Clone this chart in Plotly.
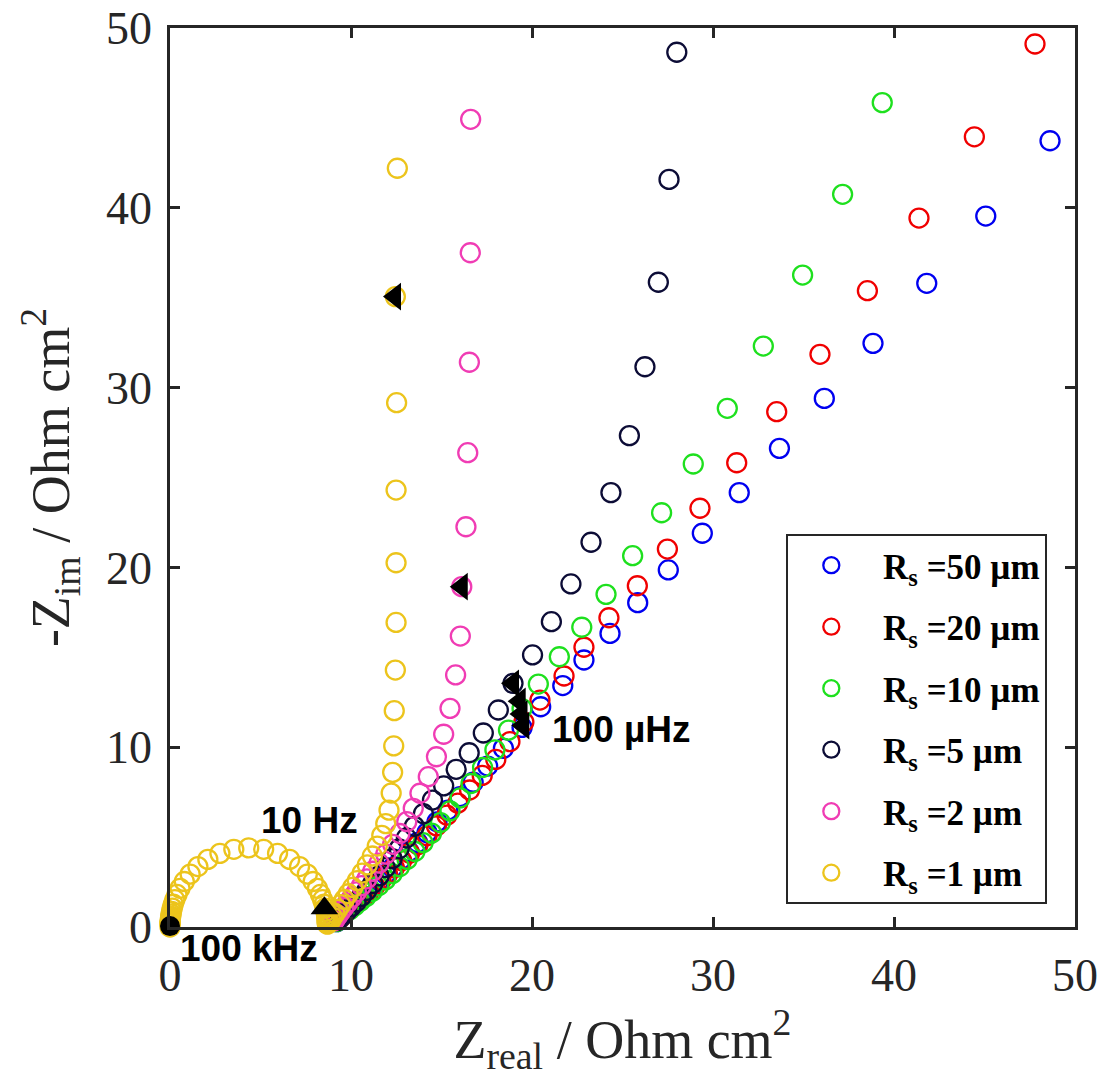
import plotly.graph_objects as go

# ---------------- data ----------------
series_names = ["R<sub>s</sub> =50 µm", "R<sub>s</sub> =20 µm", "R<sub>s</sub> =10 µm",
                "R<sub>s</sub> =5 µm", "R<sub>s</sub> =2 µm", "R<sub>s</sub> =1 µm"]

blue_x = [48.62, 45.07, 41.81, 38.84, 36.15, 33.67, 31.45, 29.41, 27.53, 25.84, 24.31, 22.87, 21.70,
          20.48, 19.45, 18.42, 17.55, 16.75, 16.02, 15.35, 14.75, 14.20, 13.68, 13.20, 12.75, 12.32,
          11.92, 11.55, 11.20, 10.88, 10.58, 10.30, 10.05, 9.82, 9.62, 9.46, 9.33, 9.22]
blue_y = [43.73, 39.54, 35.80, 32.46, 29.40, 26.62, 24.16, 21.90, 19.86, 18.04, 16.33, 14.85, 13.43,
          12.25, 11.10, 9.94, 8.95, 8.05, 7.25, 6.50, 5.85, 5.25, 4.70, 4.20, 3.75, 3.32,
          2.93, 2.57, 2.24, 1.93, 1.64, 1.38, 1.14, 0.92, 0.73, 0.56, 0.42, 0.30]

red_x = [47.79, 44.44, 41.38, 38.53, 35.91, 33.52, 31.31, 29.28, 27.48, 25.82, 24.25, 22.87, 21.77,
         20.44, 19.55, 18.78, 18.00, 17.25, 16.55, 15.90, 15.30, 14.72, 14.20, 13.70, 13.24, 12.80,
         12.40, 12.02, 11.66, 11.32, 11.00, 10.70, 10.42, 10.15, 9.90, 9.68, 9.50, 9.35, 9.22]
red_y = [49.11, 43.95, 39.43, 35.39, 31.85, 28.66, 25.82, 23.29, 21.02, 18.98, 17.20, 15.56, 13.96,
         12.62, 11.40, 10.31, 9.32, 8.43, 7.62, 6.89, 6.22, 5.62, 5.07, 4.57, 4.11, 3.69,
         3.30, 2.94, 2.60, 2.28, 1.98, 1.70, 1.44, 1.20, 0.98, 0.78, 0.60, 0.45, 0.32]

green_x = [39.35, 37.16, 34.95, 32.78, 30.79, 28.91, 27.16, 25.56, 24.09, 22.75, 21.51, 20.35, 19.45,
           18.70, 17.95, 17.27, 16.63, 16.03, 15.47, 14.94, 14.45, 13.98, 13.53, 13.10, 12.68, 12.28,
           11.90, 11.53, 11.17, 10.83, 10.50, 10.20, 9.92, 9.66, 9.45, 9.30, 9.20]
green_y = [45.85, 40.75, 36.26, 32.31, 28.85, 25.75, 23.04, 20.65, 18.50, 16.67, 15.03, 13.51, 12.15,
           10.95, 9.85, 8.87, 7.98, 7.18, 6.46, 5.81, 5.22, 4.69, 4.20, 3.76, 3.35, 2.97,
           2.62, 2.29, 1.98, 1.69, 1.42, 1.17, 0.95, 0.75, 0.57, 0.42, 0.30]

black_x = [28.00, 27.57, 26.98, 26.24, 25.38, 24.36, 23.26, 22.15, 21.07, 20.03, 18.95, 18.14, 17.31,
           16.53, 15.81, 15.12, 14.50, 14.00, 13.50, 13.06, 12.66, 12.27, 11.90, 11.55, 11.20, 10.88,
           10.57, 10.28, 10.00, 9.76, 9.55, 9.38, 9.23]
black_y = [48.65, 41.58, 35.86, 31.16, 27.33, 24.16, 21.40, 19.08, 16.98, 15.13, 13.55, 12.07, 10.79,
           9.69, 8.77, 7.85, 7.06, 6.30, 5.60, 4.95, 4.35, 3.80, 3.30, 2.84, 2.42, 2.04,
           1.70, 1.39, 1.12, 0.88, 0.67, 0.50, 0.35]

pink_x = [16.61, 16.59, 16.54, 16.45, 16.35, 16.12, 16.04, 15.78, 15.47, 15.12, 14.72, 14.27, 13.81,
          13.44, 13.08, 12.70, 12.30, 11.92, 11.55, 11.20, 10.88, 10.58, 10.30, 10.04, 9.80, 9.60,
          9.42, 9.28, 9.16, 9.06]
pink_y = [44.92, 37.50, 31.41, 26.38, 22.26, 18.93, 16.18, 14.02, 12.16, 10.72, 9.47, 8.36, 7.44,
          6.60, 5.86, 5.20, 4.60, 4.05, 3.55, 3.10, 2.68, 2.30, 1.95, 1.63, 1.34, 1.08,
          0.85, 0.65, 0.48, 0.34]

yellow_x = [12.56, 12.45, 12.52, 12.49, 12.49, 12.49, 12.45, 12.39, 12.36, 12.30, 12.22, 12.10, 11.92,
            11.70, 11.45, 11.18, 10.90, 10.62, 10.35, 10.09, 9.85, 9.63, 9.43, 9.26, 9.11, 8.98, 8.88, 8.80,
            8.697, 8.696, 8.694, 8.691, 8.687, 8.681, 8.673, 8.660, 8.641, 8.614, 8.574, 8.517, 8.433,
            8.314, 8.145, 7.909, 7.587, 7.158, 6.609, 5.942, 5.174, 4.350, 3.526, 2.758, 2.091, 1.542,
            1.113, 0.791, 0.555, 0.386, 0.267, 0.183, 0.126, 0.086, 0.059, 0.040, 0.027, 0.019, 0.013,
            0.009, 0.006, 0.004, 0.003, 0.0]
yellow_y = [42.20, 35.06, 29.16, 24.30, 20.26, 16.94, 14.29, 12.03, 10.07, 8.60, 7.45, 6.50, 5.75,
            5.10, 4.50, 3.95, 3.45, 3.00, 2.58, 2.20, 1.85, 1.53, 1.24, 0.98, 0.75, 0.55, 0.38, 0.26,
            0.157, 0.190, 0.230, 0.278, 0.337, 0.408, 0.494, 0.597, 0.722, 0.871, 1.051, 1.265, 1.517,
            1.812, 2.150, 2.530, 2.940, 3.361, 3.760, 4.095, 4.320, 4.400, 4.320, 4.095, 3.760, 3.361,
            2.940, 2.530, 2.150, 1.812, 1.517, 1.265, 1.051, 0.871, 0.722, 0.597, 0.494, 0.408, 0.337,
            0.278, 0.230, 0.190, 0.157, 0.0]

series_x = [blue_x, red_x, green_x, black_x, pink_x, yellow_x]
series_y = [blue_y, red_y, green_y, black_y, pink_y, yellow_y]
series_colors = ["#0000F0", "#F00000", "#1EE01E", "#0C0C36", "#F03CB4", "#ECC41C"]

# frequency markers
khz_x, khz_y = [0.0], [0.05]          # 100 kHz
hz10_x, hz10_y = [8.53], [1.04]       # 10 Hz
uhz_x = [12.43, 16.12, 18.95, 19.32, 19.42, 19.52]   # 100 µHz
uhz_y = [35.06, 18.93, 13.55, 12.55, 11.85, 11.20]

# annotation texts: (text, x, y) -- the 100 kHz label sits below the axis, so in paper units
data_labels = [("10 Hz", 7.73, 5.95), ("100 µHz", 24.95, 10.96)]
paper_labels = [("100 kHz", 0.0873, -0.0234)]
tick_vals = [0, 10, 20, 30, 40, 50]

# ---------------- figure ----------------
fig = go.Figure()
for i, (xs, ys, c, n) in enumerate(zip(series_x, series_y, series_colors, series_names)):
    fig.add_trace(go.Scatter(
        x=xs, y=ys, mode="markers", name="<b>&nbsp;" + n + "</b>", legendgroup="g%d" % i,
        marker=dict(symbol="circle-open", size=19, color=c, line=dict(width=2.3, color=c)),
        cliponaxis=False))

fig.add_trace(go.Scatter(x=khz_x, y=khz_y, mode="markers", showlegend=False, cliponaxis=False,
                         marker=dict(symbol="circle", size=20, color="black")))
fig.add_trace(go.Scatter(x=hz10_x, y=hz10_y, mode="markers", showlegend=False, cliponaxis=False,
                         marker=dict(symbol="triangle-up", size=24, color="black")))
fig.add_trace(go.Scatter(x=uhz_x, y=uhz_y, mode="markers", showlegend=False, cliponaxis=False,
                         marker=dict(symbol="triangle-left", size=24, color="black")))

for txt, x, y in data_labels:
    fig.add_annotation(x=x, y=y, xref="x", yref="y", text="<b>" + txt + "</b>", showarrow=False,
                       xanchor="center", yanchor="middle",
                       font=dict(family="Liberation Sans", size=37, color="black"))
for txt, x, y in paper_labels:
    fig.add_annotation(x=x, y=y, xref="paper", yref="paper", text="<b>" + txt + "</b>",
                       showarrow=False, xanchor="center", yanchor="middle",
                       font=dict(family="Liberation Sans", size=37, color="black"))

axis_common = dict(range=[0, 50], tickvals=tick_vals, ticks="inside", ticklen=10, tickwidth=2.5,
                   tickcolor="#262626", showline=True, linecolor="#262626", linewidth=2.5,
                   mirror="ticks", showgrid=False, zeroline=False, automargin=False,
                   tickfont=dict(family="Liberation Serif", size=46, color="#262626"))

fig.update_layout(
    width=1101, height=1088, autosize=False,
    margin=dict(l=170, r=26, t=28, b=161, autoexpand=False),
    paper_bgcolor="white", plot_bgcolor="white",
    xaxis=dict(**axis_common, ticklabelstandoff=6,
               title=dict(text="Z<sub>real</sub> / Ohm cm<sup>2</sup>", standoff=17,
                          font=dict(family="Liberation Serif", size=54, color="#262626"))),
    yaxis=dict(**axis_common, ticklabelstandoff=6,
               title=dict(text="-Z<sub>im</sub> / Ohm cm<sup>2</sup>", standoff=20,
                          font=dict(family="Liberation Serif", size=54, color="#262626"))),
    legend=dict(x=0.681, y=0.4372, xanchor="left", yanchor="top", bgcolor="white",
                bordercolor="#262626", borderwidth=2, tracegroupgap=13, itemsizing="trace",
                itemwidth=76,
                font=dict(family="Liberation Serif", size=35, color="black")),
    showlegend=True,
)

fig.write_html("out.html", config={"displayModeBar": False},
               post_script="document.body.style.margin='0px';")
